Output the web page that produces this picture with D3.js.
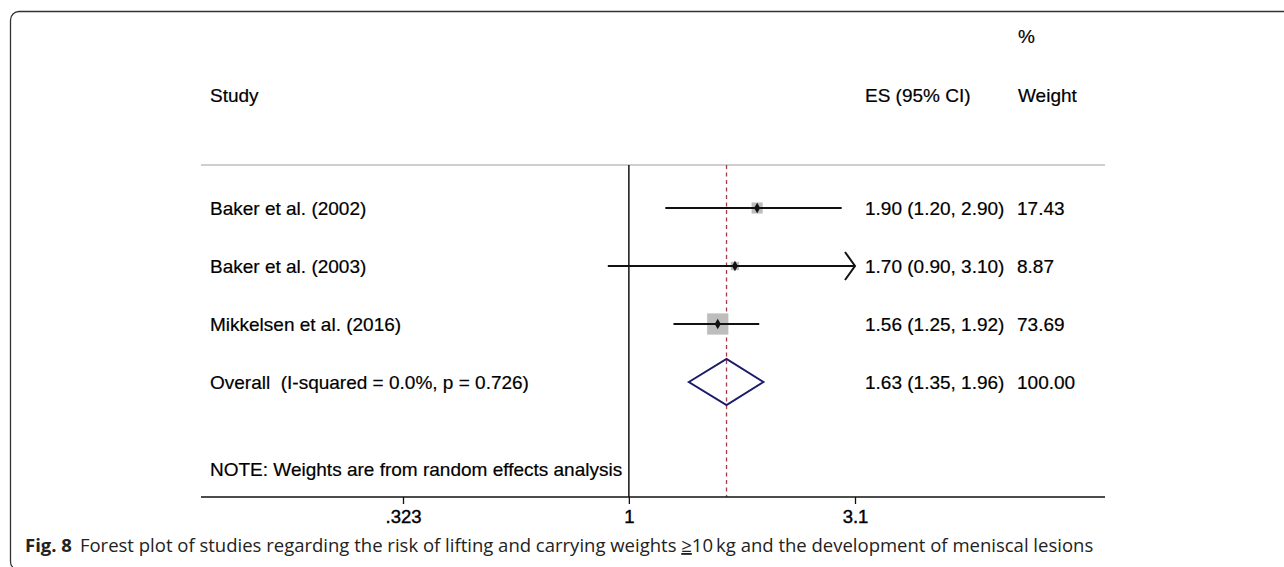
<!DOCTYPE html>
<meta charset="utf-8">
<head>
  <title>Forest plot</title>
</head>
<style>
  body { margin: 0; background: #fff; }
  .lbl { font-family: "Liberation Sans", Arial, Helvetica, sans-serif; font-size: 19px; fill: #000; white-space: pre; stroke: #000; stroke-width: 0.2px; }
  .cap { font-family: "Open Sans", "Noto Sans", sans-serif; font-size: 18.5px; fill: #222; }
</style>

<script src="https://d3js.org/d3.v7.min.js"></script>

<div id="my_dataviz"></div>

<script>
  // data
  var studies = ["Baker et al. (2002)", "Baker et al. (2003)", "Mikkelsen et al. (2016)"];
  var es = [1.90, 1.70, 1.56];
  var lo = [1.20, 0.90, 1.25];
  var hi = [2.90, 3.10, 1.92];
  var weights = [17.43, 8.87, 73.69];
  var esText = ["1.90 (1.20, 2.90)", "1.70 (0.90, 3.10)", "1.56 (1.25, 1.92)"];
  var weightText = ["17.43", "8.87", "73.69"];

  var overallLabel = "Overall  (I-squared = 0.0%, p = 0.726)";
  var overallES = 1.63, overallLo = 1.35, overallHi = 1.96;
  var overallText = "1.63 (1.35, 1.96)";
  var overallWeight = "100.00";

  var tickValues = [0.323, 1, 3.1];
  var tickLabels = [".323", "1", "3.1"];

  var width = 1284, height = 567;

  var svg = d3.select("#my_dataviz")
    .append("svg")
    .attr("width", width)
    .attr("height", height);

  // frame of the figure panel
  svg.append("path")
    .attr("d", "M1284,11.5 H19 A8.5,8.5 0 0 0 10.5,20 V561 Q10.5,566 13,567")
    .attr("fill", "none")
    .attr("stroke", "#333")
    .attr("stroke-width", 1.3);

  // scales
  var x = d3.scaleLog()
    .domain([tickValues[0], tickValues[2]])
    .range([403, 855]);
  var y = d3.scaleLinear()
    .domain([0, 1])
    .range([208, 266]);

  var plotTop = 165, axisY = 497, left = 201, right = 1105;
  var textX = 210, esX = 865, wX = 1017;

  // headers
  svg.append("text").attr("class", "lbl").attr("x", wX + 1).attr("y", 43).text("%");
  svg.append("text").attr("class", "lbl").attr("x", textX).attr("y", 101.5).text("Study");
  svg.append("text").attr("class", "lbl").attr("x", esX).attr("y", 101.5).text("ES (95% CI)");
  svg.append("text").attr("class", "lbl").attr("x", wX + 1).attr("y", 101.5).text("Weight");

  // separator under headers
  svg.append("line")
    .attr("x1", left).attr("x2", right)
    .attr("y1", plotTop).attr("y2", plotTop)
    .attr("stroke", "#cfcfcf")
    .attr("stroke-width", 2);

  // line of no effect
  svg.append("line")
    .attr("x1", x(1)).attr("x2", x(1))
    .attr("y1", plotTop).attr("y2", axisY)
    .attr("stroke", "#111")
    .attr("stroke-width", 1.5);

  // overall effect line
  svg.append("line")
    .attr("x1", x(overallES)).attr("x2", x(overallES))
    .attr("y1", plotTop).attr("y2", axisY)
    .attr("stroke", "#a83a46")
    .attr("stroke-width", 1.3)
    .attr("stroke-dasharray", "4,3.5");

  // x axis
  var axis = svg.append("g")
    .attr("transform", "translate(0," + axisY + ")")
    .call(d3.axisBottom(x)
      .tickValues(tickValues)
      .tickFormat(function(d, i) { return tickLabels[i]; })
      .tickSize(7)
      .tickPadding(6));
  axis.select(".domain").remove();
  axis.selectAll("line").attr("stroke", "#111").attr("stroke-width", 1.3);
  axis.selectAll("text")
    .attr("class", "lbl")
    .style("font-size", "18.5px")
    .style("stroke-width", "0.4px")
    .attr("fill", "#000");
  svg.append("line")
    .attr("x1", left).attr("x2", right)
    .attr("y1", axisY).attr("y2", axisY)
    .attr("stroke", "#111")
    .attr("stroke-width", 1.5);

  var xMax = tickValues[tickValues.length - 1];

  // study rows
  studies.forEach(function(s, i) {
    var cy = y(i);
    var x2 = Math.min(hi[i], xMax);

    // weight box
    var side = 2.3 * Math.sqrt(weights[i]) + 1.5;
    svg.append("rect")
      .attr("x", x(es[i]) - side / 2)
      .attr("y", cy - side / 2)
      .attr("width", side)
      .attr("height", side)
      .attr("fill", "#bdbdbd");

    // confidence interval
    svg.append("line")
      .attr("x1", x(lo[i])).attr("x2", x(x2))
      .attr("y1", cy).attr("y2", cy)
      .attr("stroke", "#111")
      .attr("stroke-width", 2);

    if (hi[i] >= xMax) {
      svg.append("path")
        .attr("d", "M" + (x(xMax) - 10) + "," + (cy - 14) + " L" + x(xMax) + "," + cy +
          " L" + (x(xMax) - 10) + "," + (cy + 14))
        .attr("fill", "none")
        .attr("stroke", "#111")
        .attr("stroke-width", 2);
    }

    // point estimate
    svg.append("path")
      .attr("d", d3.symbol().type(d3.symbolDiamond).size(32)())
      .attr("transform", "translate(" + x(es[i]) + "," + cy + ")")
      .attr("fill", "#111");

    svg.append("text").attr("class", "lbl").attr("x", textX).attr("y", cy + 6.7).text(s);
    svg.append("text").attr("class", "lbl").attr("x", esX).attr("y", cy + 6.7).text(esText[i]);
    svg.append("text").attr("class", "lbl").attr("x", wX).attr("y", cy + 6.7).text(weightText[i]);
  });

  // overall row
  var oy = y(3);
  svg.append("path")
    .attr("d", "M" + x(overallLo) + "," + oy +
      " L" + x(overallES) + "," + (oy - 23) +
      " L" + x(overallHi) + "," + oy +
      " L" + x(overallES) + "," + (oy + 23) + " Z")
    .attr("fill", "none")
    .attr("stroke", "#1b1b6b")
    .attr("stroke-width", 2);
  svg.append("text").attr("class", "lbl").attr("x", textX).attr("y", oy + 6.7).text(overallLabel);
  svg.append("text").attr("class", "lbl").attr("x", esX).attr("y", oy + 6.7).text(overallText);
  svg.append("text").attr("class", "lbl").attr("x", wX).attr("y", oy + 6.7).text(overallWeight);

  // note
  svg.append("text").attr("class", "lbl").attr("x", textX).attr("y", y(4.5) + 6.7)
    .text("NOTE: Weights are from random effects analysis");

  // caption
  var cap = svg.append("text").attr("class", "cap").attr("x", 25).attr("y", 552);
  cap.append("tspan").style("font-weight", "bold").text("Fig. 8");
  cap.append("tspan").attr("dx", 8)
    .text("Forest plot of studies regarding the risk of lifting and carrying weights ");
  cap.append("tspan").style("text-decoration", "underline").text("≥");
  cap.append("tspan").text("10\u2009kg and the development of meniscal lesions");
</script>
